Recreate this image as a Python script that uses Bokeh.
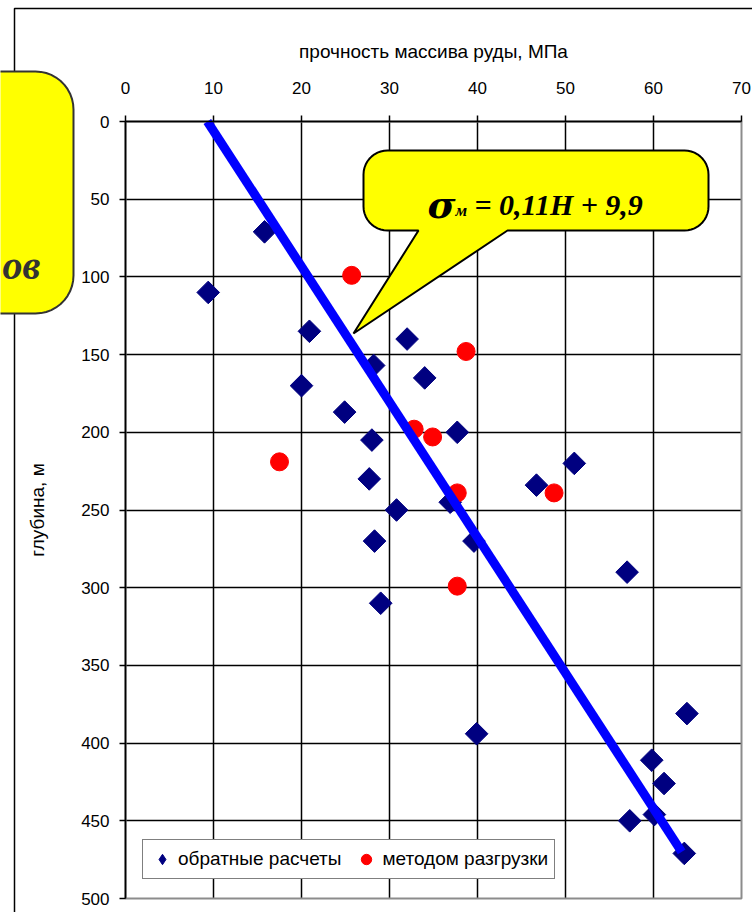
import numpy as np
from bokeh.plotting import figure
from bokeh.models import (Range1d, FixedTicker, Legend, LegendItem, Label,
                          PolyAnnotation, BoxAnnotation, ColumnDataSource)
from bokeh.embed import file_html
from bokeh.resources import INLINE

# ---------------- data ----------------
back_calc_strength = [9.4, 15.8, 20.9, 32.0, 28.2, 34.0, 20.0, 24.9, 37.7, 28.0,
                      51.0, 27.7, 46.7, 36.9, 30.8, 28.3, 39.6, 57.0, 29.0, 39.9,
                      63.8, 59.8, 61.2, 60.1, 57.3, 63.5]
back_calc_depth = [110, 71, 135, 140, 157, 165, 170, 187, 200, 205,
                   220, 230, 234, 245, 250, 270, 270, 290, 310, 394,
                   381, 411, 426, 446, 450, 471]

unload_strength = [25.7, 38.7, 32.8, 34.9, 17.5, 37.7, 48.7, 37.7]
unload_depth = [99, 148, 198, 203, 219, 239, 239, 299]

trend_strength = [9.3, 63.2]
trend_depth = [0, 470]

x_ticks = [0, 10, 20, 30, 40, 50, 60, 70]
y_ticks = [0, 50, 100, 150, 200, 250, 300, 350, 400, 450, 500]

series_labels = ["обратные расчеты", "методом разгрузки"]
x_title = "прочность массива руды, МПа"
y_title = "глубина, м"

# ---------------- geometry ----------------
W, H = 752, 912
FL, FR, FT, FB = 125, 741, 121, 898   # plot-area edges in page pixels
sx = (FR - FL) / (x_ticks[-1] - x_ticks[0])
sy = (FB - FT) / (y_ticks[-1] - y_ticks[0])

def dxv(px):
    return (px - FL) / sx

def dyv(py):
    return (py - FT) / sy

# the frame covers the whole canvas so that callouts outside the plot area are not clipped;
# the axes are pinned to the data edges with fixed_location
p = figure(width=W, height=H,
           x_range=Range1d(dxv(0), dxv(W)), y_range=Range1d(dyv(H), dyv(0)),
           x_axis_location="above", output_backend="svg", toolbar_location=None,
           min_border_left=0, min_border_right=0, min_border_top=0, min_border_bottom=0)
p.background_fill_color = "white"
p.border_fill_color = "white"
p.outline_line_color = None

xa, ya = p.xaxis[0], p.yaxis[0]
xa.fixed_location = y_ticks[0]
ya.fixed_location = x_ticks[0]
xa.bounds = (x_ticks[0], x_ticks[-1])
ya.bounds = (y_ticks[0], y_ticks[-1])

for ax, ticks in ((xa, x_ticks), (ya, y_ticks)):
    ax.ticker = FixedTicker(ticks=ticks)
    ax.minor_tick_line_color = None
    ax.major_tick_in = 0
    ax.major_tick_out = 6
    ax.major_tick_line_color = "black"
    ax.major_tick_line_width = 1.5
    ax.axis_line_color = "black"
    ax.axis_line_width = 1.5
    ax.major_label_text_font = "Liberation Sans"
    ax.major_label_text_font_size = "17px"
    ax.major_label_text_color = "black"
    ax.axis_label_text_font = "Liberation Sans"
    ax.axis_label_text_font_size = "19px"
    ax.axis_label_text_font_style = "normal"
    ax.axis_label_text_color = "black"

xa.axis_label = x_title
xa.major_label_standoff = 22
xa.axis_label_standoff = 17
ya.axis_label = y_title
ya.major_label_standoff = 10
ya.axis_label_standoff = 30

xg, yg = p.xgrid[0], p.ygrid[0]
xg.ticker = FixedTicker(ticks=x_ticks[:-1])
yg.ticker = FixedTicker(ticks=y_ticks[:-1])
xg.bounds = (x_ticks[0], x_ticks[-1])
yg.bounds = (y_ticks[0], y_ticks[-1])
xg.cross_bounds = (y_ticks[0], y_ticks[-1])
yg.cross_bounds = (x_ticks[0], x_ticks[-1])
for g in (xg, yg):
    g.grid_line_color = "black"
    g.grid_line_width = 1.5
    g.grid_line_alpha = 1

# gray right / bottom border of the plot area
p.add_layout(BoxAnnotation(left=x_ticks[0], right=x_ticks[-1],
                           top=y_ticks[0], bottom=y_ticks[-1],
                           fill_color=None, fill_alpha=0,
                           line_color="#8c8c8c", line_alpha=1, line_width=2,
                           level="underlay"))

# ---------------- data marks ----------------
src_d = ColumnDataSource(dict(x=back_calc_strength, y=back_calc_depth))
src_c = ColumnDataSource(dict(x=unload_strength, y=unload_depth))
p.scatter("x", "y", source=src_d, marker="square", angle=np.pi / 4, size=16,
          fill_color="#000080", line_color="#000080")
p.scatter("x", "y", source=src_c, marker="circle", size=18,
          fill_color="#FF0000", line_color="#FF0000")
p.line(trend_strength, trend_depth, line_color="#0000FF", line_width=9)

# legend-only proxies (NaN position, never visible in the plot)
leg_d = p.scatter([np.nan], [np.nan], marker="diamond",
                  fill_color="#000080", line_color="#000080")
leg_c = p.scatter([np.nan], [np.nan], marker="circle",
                  fill_color="#FF0000", line_color="#FF0000")

# ---------------- decorations ----------------
def callout(l, t, r, b, rad, pointer=None, n=12):
    pts = []
    def arc(cx, cy, a0, a1):
        for a in np.linspace(a0, a1, n):
            pts.append((cx + rad * np.cos(a), cy + rad * np.sin(a)))
    arc(l + rad, t + rad, np.pi, 1.5 * np.pi)
    arc(r - rad, t + rad, 1.5 * np.pi, 2 * np.pi)
    arc(r - rad, b - rad, 0, 0.5 * np.pi)
    if pointer:
        pts.extend(pointer)
    arc(l + rad, b - rad, 0.5 * np.pi, np.pi)
    return [dxv(a) for a, _ in pts], [dyv(b_) for _, b_ in pts]

# outer chart frame (left and top edges visible)
frame_px = [(14, 8), (2000, 8), (2000, 2000), (14, 2000)]
p.add_layout(PolyAnnotation(xs=[dxv(a) for a, _ in frame_px],
                            ys=[dyv(b) for _, b in frame_px],
                            fill_color=None, fill_alpha=0,
                            line_color="black", line_alpha=1, line_width=1.5))

# left (cut-off) callout
lx, ly = callout(-60, 71, 73, 313, 38)
p.add_layout(PolyAnnotation(xs=lx, ys=ly, fill_color="#FFFF00", fill_alpha=1,
                            line_color="#333333", line_alpha=1, line_width=2))
p.add_layout(Label(x=dxv(2), y=dyv(265), text="ов", text_align="left",
                   text_baseline="alphabetic", text_font="Liberation Serif",
                   text_font_style="bold italic", text_font_size="40px",
                   text_color="#333333"))

# equation callout
ex, ey = callout(363, 150, 708, 230, 24,
                 pointer=[(507, 230), (353, 333), (418, 230)])
p.add_layout(PolyAnnotation(xs=ex, ys=ey, fill_color="#FFFF00", fill_alpha=1,
                            line_color="black", line_alpha=1, line_width=2))
p.add_layout(Label(x=dxv(427), y=dyv(204), text="σ", text_align="left",
                   text_baseline="alphabetic", text_font="DejaVu Serif",
                   text_font_style="bold italic", text_font_size="38px",
                   text_color="black"))
p.add_layout(Label(x=dxv(455), y=dyv(210), text="м", text_align="left",
                   text_baseline="alphabetic", text_font="Liberation Serif",
                   text_font_style="bold italic", text_font_size="17px",
                   text_color="black"))
p.add_layout(Label(x=dxv(474), y=dyv(204), text="= 0,11H + 9,9", text_align="left",
                   text_baseline="alphabetic", text_font="Liberation Serif",
                   text_font_style="bold italic", text_font_size="30px",
                   text_color="black"))

# legend
legend = Legend(items=[LegendItem(label=series_labels[0], renderers=[leg_d]),
                       LegendItem(label=series_labels[1], renderers=[leg_c])],
                location=(142, H - 879), orientation="horizontal",
                label_text_font="Liberation Sans", label_text_font_size="19px",
                label_text_color="black",
                glyph_width=26, glyph_height=26, label_standoff=3, spacing=12,
                padding=6, margin=0, border_line_color="black",
                border_line_width=1.5, background_fill_color="white",
                background_fill_alpha=1)
p.add_layout(legend, "center")

open("out.html", "w").write(file_html(p, INLINE))
